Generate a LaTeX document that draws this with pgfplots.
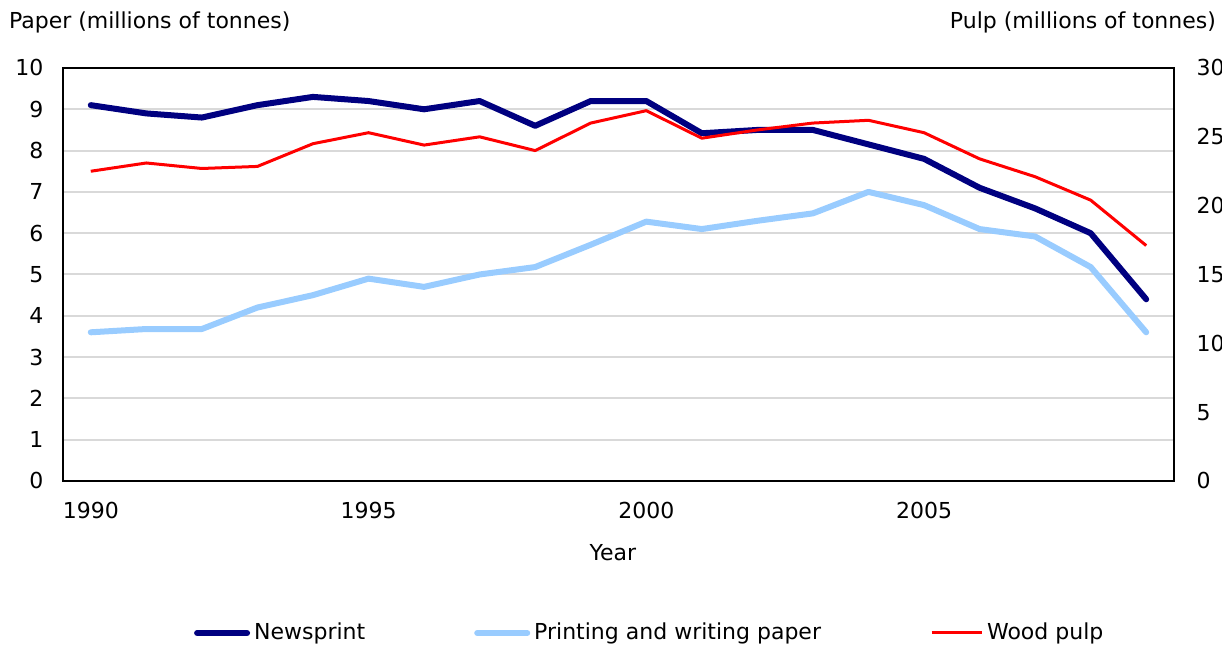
\documentclass[border=0pt]{standalone}
\usepackage{pgfplots}
\pgfplotsset{compat=1.18}
\usepackage{fontspec}
\setmainfont{DejaVu Sans}
\definecolor{navyline}{HTML}{000080}
\definecolor{lightblue}{HTML}{99CCFF}
\definecolor{gridgray}{HTML}{D9D9D9}
\begin{document}
\begin{tikzpicture}[font=\fontsize{11}{13}\selectfont]
\useasboundingbox (0,0) rectangle (611pt,323pt);
\begin{axis}[
  at={(31.5pt,82.5pt)}, anchor=south west,
  scale only axis, width=555.5pt, height=206.5pt,
  xmin=1989.5, xmax=2009.5, ymin=0, ymax=10,
  xtick={1990,1995,2000,2005}, ytick={0,1,...,10},
  xtick pos=bottom, ytick pos=left,
  major tick length=0pt,
  ymajorgrids, grid style={gridgray, line width=1pt},
  axis line style={line width=1pt},
  /pgf/number format/1000 sep={},
  /pgf/number format/assume math mode=true,
  xticklabel style={yshift=-7pt},
  yticklabel style={xshift=-6.3pt},
  ylabel={Paper (millions of tonnes)},
  ylabel style={at={(axis description cs:-0.0549,1.111)}, rotate=-90, anchor=west},
  xlabel={Year},
  xlabel style={at={(axis description cs:0.495,-0.174)}, anchor=center},
  legend columns=3,
  legend style={draw=none, at={(axis description cs:0.529,-0.368)}, anchor=center,
    /tikz/every even column/.append style={column sep=52.5pt},
    legend cell align=left},
  legend image code/.code={\draw[#1] (0pt,0pt) -- (25pt,0pt);},
]
\addplot[navyline, line width=3pt, line join=round, line cap=round] coordinates {
(1990,9.1) (1991,8.9) (1992,8.8) (1993,9.1) (1994,9.3) (1995,9.2) (1996,9.0) (1997,9.2) (1998,8.6) (1999,9.2) (2000,9.2) (2001,8.42) (2002,8.5) (2003,8.5) (2004,8.15) (2005,7.8) (2006,7.1) (2007,6.6) (2008,6.0) (2009,4.4)};
\addlegendentry{Newsprint}
\addplot[lightblue, line width=3pt, line join=round, line cap=round] coordinates {
(1990,3.6) (1991,3.68) (1992,3.68) (1993,4.2) (1994,4.5) (1995,4.9) (1996,4.7) (1997,5.0) (1998,5.18) (1999,5.72) (2000,6.28) (2001,6.1) (2002,6.3) (2003,6.48) (2004,7.0) (2005,6.68) (2006,6.1) (2007,5.92) (2008,5.18) (2009,3.6)};
\addlegendentry{Printing and writing paper}
\addlegendimage{red, line width=1.5pt}
\addlegendentry{Wood pulp}
\end{axis}
\begin{axis}[
  at={(31.5pt,82.5pt)}, anchor=south west,
  scale only axis, width=555.5pt, height=206.5pt,
  xmin=1989.5, xmax=2009.5, ymin=0, ymax=30,
  axis x line=none, axis y line*=right,
  ytick={0,5,...,30},
  major tick length=0pt,
  axis line style={line width=1pt},
  /pgf/number format/assume math mode=true,
  yticklabel style={xshift=7.8pt, anchor=west},
  ylabel={Pulp (millions of tonnes)},
  ylabel style={at={(axis description cs:1.0441,1.111)}, rotate=-90, anchor=east},
]
\addplot[red, line width=1.5pt, line join=round] coordinates {
(1990,22.5) (1991,23.1) (1992,22.7) (1993,22.85) (1994,24.5) (1995,25.3) (1996,24.4) (1997,25.0) (1998,24.0) (1999,26.0) (2000,26.9) (2001,24.9) (2002,25.5) (2003,26.0) (2004,26.2) (2005,25.3) (2006,23.4) (2007,22.1) (2008,20.4) (2009,17.1)};
\end{axis}
\end{tikzpicture}
\end{document}
